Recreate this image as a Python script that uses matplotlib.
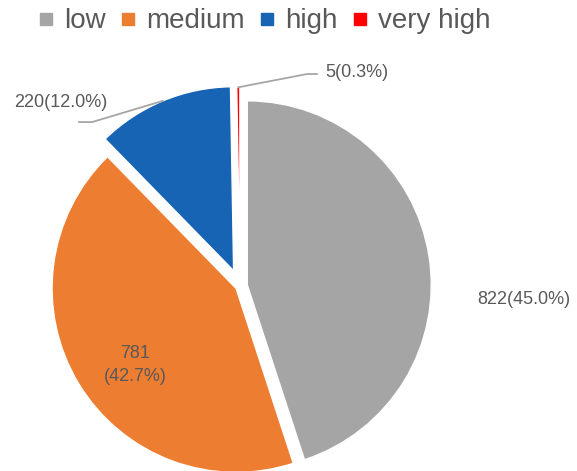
import matplotlib.pyplot as plt
import numpy as np
from matplotlib.lines import Line2D

categories = ['low', 'medium', 'high', 'very high']
counts = [822, 781, 220, 5]
colors = ['#A5A5A5', '#ED7D31', '#1763B4', '#FF0000']
explode = [0.04, 0.025, 0.09, 0.08]

text_grey = '#595959'
line_grey = '#A6A6A6'
label_font = ['Liberation Sans Narrow', 'Liberation Sans', 'DejaVu Sans']

fig = plt.figure(figsize=(5.77, 4.71), dpi=100)
ax = fig.add_axes([0, 0, 1, 1])

wedges, _ = ax.pie(counts, colors=colors, explode=explode, startangle=90,
                   counterclock=False, radius=1,
                   wedgeprops=dict(edgecolor='white', linewidth=1.0))
for w in wedges:
    w.set_clip_on(False)

# 1 data unit = 184 px, pie centre at pixel (240, 286)
ax.set_xlim(-240 / 184, 337 / 184)
ax.set_ylim(-185 / 184, 286 / 184)
ax.axis('off')

total = sum(counts)
pct = [100 * c / total for c in counts]

# label spots (data units, radius = 1)
label_pos = [(1.54, -0.076), (-0.571, -0.429), (-0.973, 0.995), (0.636, 1.163)]
for i, (x, y) in enumerate(label_pos):
    if i == 1:
        txt = f'{counts[i]}\n({pct[i]:.1f}%)'
    else:
        txt = f'{counts[i]}({pct[i]:.1f}%)'
    ax.text(x, y, txt, ha='center', va='center', fontsize=13,
            color=text_grey, family=label_font, linespacing=1.5)

# leader lines for the two small slices
def arc_point(w):
    mid = np.deg2rad((w.theta1 + w.theta2) / 2)
    cx, cy = w.center
    return cx + w.r * np.cos(mid), cy + w.r * np.sin(mid)

x0, y0 = arc_point(wedges[2])
ax.plot([x0, -0.804, -0.875], [y0, 0.891, 0.891], color=line_grey, lw=1.3,
        clip_on=False)
x0, y0 = arc_point(wedges[3])
ax.plot([x0, 0.364, 0.418], [y0, 1.152, 1.152], color=line_grey, lw=1.3,
        clip_on=False)

handles = [Line2D([], [], marker='s', linestyle='', markersize=8,
                  markerfacecolor=c, markeredgecolor=c) for c in colors]
leg = ax.legend(handles, categories, loc='upper center', ncol=4,
                bbox_to_anchor=(264 / 577, 1.006), frameon=False,
                prop=dict(family='Liberation Sans', size=20),
                handlelength=0.6, handletextpad=0.35, columnspacing=0.5,
                borderaxespad=0.0)
for t in leg.get_texts():
    t.set_color(text_grey)

fig.savefig('out.png', dpi=100)
